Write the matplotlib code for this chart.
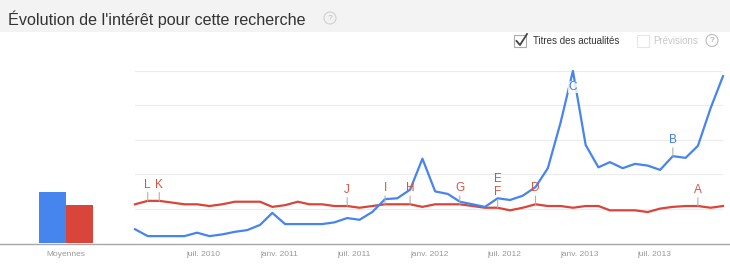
import datetime
import numpy as np
import matplotlib
matplotlib.use("Agg")
import matplotlib.pyplot as plt
import matplotlib.dates as mdates
from matplotlib.patches import Rectangle, Circle
from matplotlib.lines import Line2D
from matplotlib.transforms import IdentityTransform

plt.rcParams['font.family'] = ['Liberation Sans', 'DejaVu Sans']

# monthly points, jan 2010 -> dec 2013
months = [datetime.date(2010 + i // 12, i % 12 + 1, 15) for i in range(48)]

blue_vals = [8, 4, 4, 4, 4, 6, 4, 5, 6.5, 7.5, 10.5, 17.5,
             11, 11, 11, 11, 12, 14.5, 13.5, 18, 25.5, 26, 31, 49,
             30, 28.5, 24, 22.5, 21, 26, 25, 27.5, 32.5, 43.5, 70, 100,
             57, 44, 47, 43.5, 46, 45, 42.5, 50.5, 49.5, 56.5, 78.5, 97]
red_vals = [22.5, 24.5, 24.5, 23.5, 22.5, 22.5, 21.5, 22.5, 24, 24, 24, 21,
            22, 24, 22.5, 22.5, 21.5, 21.5, 20.5, 21.5, 22.5, 22.5, 22.5, 21,
            22.5, 22.5, 22.5, 21.5, 20.5, 20.5, 19, 20.5, 22.5, 21.5, 21.5, 20.5,
            21.5, 21.5, 19, 19, 19, 18, 20, 21, 21.5, 21.5, 20.5, 21.5]

avg_labels = ['Moyennes']
avg_blue = 29.7
avg_red = 22.2

# news letters: (letter, series, month index)
news_letters = ['L', 'K', 'J', 'I', 'H', 'G', 'F', 'E', 'D', 'C', 'B', 'A']
news_series = ['r', 'r', 'r', 'r', 'r', 'r', 'r', 'b', 'r', 'b', 'b', 'r']
news_index = [1, 2, 17, 20, 22, 26, 29, 29, 32, 35, 43, 45]

tick_dates = [datetime.date(2010, 7, 1), datetime.date(2011, 1, 1), datetime.date(2011, 7, 1),
              datetime.date(2012, 1, 1), datetime.date(2012, 7, 1), datetime.date(2013, 1, 1),
              datetime.date(2013, 7, 1)]
tick_labels = ['juil. 2010', 'janv. 2011', 'juil. 2011', 'janv. 2012',
               'juil. 2012', 'janv. 2013', 'juil. 2013']

BLUE = '#4684ee'
RED = '#d9453a'
W, H = 730, 266


def fx(px):
    return px / W


def fy(py):
    return 1 - py / H


def qmark(px, py, ec, tc):
    # little "?" help circle, drawn in pixel units
    fig.patches.append(Circle((px, H - py), 6, transform=IdentityTransform(),
                              facecolor='none', edgecolor=ec, lw=0.8))
    fig.text(fx(px), fy(py), '?', fontsize=6, color=tc, ha='center', va='center')


fig = plt.figure(figsize=(7.3, 2.66), dpi=100)

# title band
fig.patches.append(Rectangle((0, fy(32)), 1, 32 / H, transform=fig.transFigure,
                             facecolor='#f3f3f3', edgecolor='none', zorder=0))
fig.text(fx(8), fy(19), "Évolution de l'intérêt pour cette recherche",
         fontsize=11.6, color='#333333', va='center', ha='left')
qmark(330, 18, '#d0d0d0', '#bbbbbb')

# checkboxes
fig.patches.append(Rectangle((fx(514), fy(47)), 12 / W, 12 / H, transform=fig.transFigure,
                             facecolor='white', edgecolor='#aaaaaa', lw=0.8))
fig.add_artist(Line2D([fx(516.5), fx(520), fx(527)], [fy(41), fy(45), fy(34)],
                      transform=fig.transFigure, color='#444444', lw=1.3))
fig.text(fx(533), fy(40.5), 'Titres des actualités', fontsize=7, color='#333333', va='center')
fig.patches.append(Rectangle((fx(637), fy(47)), 12 / W, 12 / H, transform=fig.transFigure,
                             facecolor='white', edgecolor='#e6e6e6', lw=0.8))
fig.text(fx(653), fy(40.5), 'Prévisions', fontsize=7, color='#c8c8c8', va='center')
qmark(712, 40.5, '#bbbbbb', '#999999')

# baseline across the whole width
fig.add_artist(Line2D([0, 1], [fy(243.5), fy(243.5)], transform=fig.transFigure,
                      color='#a8a8a8', lw=1))

bottom = fy(243)
height = 172 / H

# averages bars
axb = fig.add_axes([0, bottom, 130 / W, height])
axb.bar([-0.5], [avg_blue], width=0.97, color=BLUE)
axb.bar([0.5], [avg_red], width=0.97, color=RED)
axb.set_xlim(-66 / 27, 64 / 27)
axb.set_ylim(0, 100)
axb.set_xticks([0])
axb.set_xticklabels(avg_labels)
axb.set_yticks([])
axb.tick_params(length=0, pad=6, labelsize=6, labelcolor='#999999')
for s in axb.spines.values():
    s.set_visible(False)

# main chart
ax = fig.add_axes([fx(135), bottom, 588 / W, height])
ax.set_xlim(months[0], months[-1])
ax.set_ylim(0, 100)
for g in [20, 40, 60, 80, 100]:
    ax.axhline(g, color='#ececec', lw=0.8, zorder=0)
ax.plot(months, red_vals, color=RED, lw=1.6, clip_on=False, zorder=3, solid_joinstyle='round')
ax.plot(months, blue_vals, color=BLUE, lw=1.6, clip_on=False, zorder=4, solid_joinstyle='round')

for letter, ser, idx in zip(news_letters, news_series, news_index):
    vals = blue_vals if ser == 'b' else red_vals
    col = '#3f7be8' if ser == 'b' else '#d65548'
    pt = (months[idx], vals[idx])
    if letter == 'C':
        ax.annotate(letter, xy=pt, xytext=(0, -11.5),
                    textcoords='offset points', ha='center', va='center',
                    fontsize=8.5, color=col, zorder=7,
                    bbox=dict(fc='white', ec='none', pad=0.3, alpha=0.8))
        continue
    # E sits right above F, lift it a touch so they don't collide
    dy = 13.7 if letter == 'E' else 11.5
    if letter != 'E':
        ax.annotate('', xy=pt, xytext=(0, 6),
                    textcoords='offset points', zorder=5,
                    arrowprops=dict(arrowstyle='-', color='#b0b0b0', lw=0.8,
                                    shrinkA=0, shrinkB=0))
    ax.annotate(letter, xy=pt, xytext=(0, dy),
                textcoords='offset points', ha='center', va='center',
                fontsize=8.5, color=col, zorder=7)

ax.set_xticks([mdates.date2num(d) for d in tick_dates])
ax.set_xticklabels(tick_labels)
ax.set_yticks([])
ax.tick_params(length=0, pad=6, labelsize=6, labelcolor='#999999')
for s in ax.spines.values():
    s.set_visible(False)

fig.savefig('out.png', dpi=100)
